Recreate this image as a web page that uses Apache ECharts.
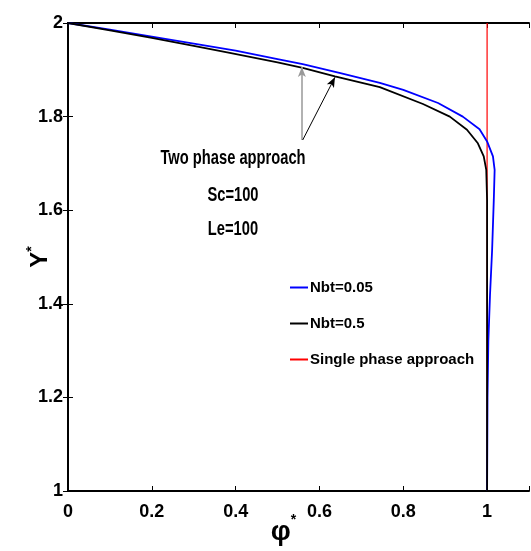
<!DOCTYPE html>
<html><head><meta charset="utf-8">
<script src="https://cdn.jsdelivr.net/npm/echarts@6/dist/echarts.min.js"></script>
<style>html,body{margin:0;padding:0;background:#fff}#c{width:531px;height:551px}</style>
</head><body><div id="c"></div>
<script>
// Nbt = 0.05 (blue): [phi*, Y*]
const blueData = [[0,2.0],[0.1,1.986],[0.2,1.971],[0.3,1.956],[0.4,1.941],[0.5,1.923],[0.56,1.912],[0.65,1.893],[0.744,1.872],[0.8,1.857],[0.883,1.829],[0.942,1.800],[0.982,1.773],[1.0,1.747],[1.014,1.715],[1.018,1.686],[1.016,1.622],[1.012,1.515],[1.007,1.42],[1.003,1.32],[1.001,1.2],[1.0,1.0]];
// Nbt = 0.5 (black)
const blackData = [[0,2.0],[0.1,1.984],[0.2,1.968],[0.3,1.951],[0.386,1.936],[0.5,1.916],[0.56,1.904],[0.637,1.886],[0.744,1.863],[0.847,1.827],[0.911,1.800],[0.952,1.772],[0.978,1.743],[0.992,1.715],[0.998,1.686],[1.0,1.622],[1.0,1.0]];
// Single phase approach (red)
const redData = [[1,1],[1,2]];
const seriesNames = ['Nbt=0.05','Nbt=0.5','Single phase approach'];
const annotationLines = ['Two phase approach','Sc=100','Le=100'];
// annotation arrows (data coords): start -> end
const arrow1 = [[0.558,1.75],[0.558,1.906]];
const arrow2 = [[0.56,1.75],[0.637,1.884]];

const FONT = '"Liberation Sans",Arial,sans-serif';
const chart = echarts.init(document.getElementById('c'), null, {renderer:'canvas'});
const axisCommon = {
  type:'value',
  axisLine:{show:true,lineStyle:{color:'#000',width:2}},
  axisTick:{show:true,inside:true,length:5,lineStyle:{color:'#000',width:1}},
  splitLine:{show:false}
};
function annot(text, y){
  return {type:'text',x:233,y:y,scaleX:0.7,
    style:{text:text,fontFamily:FONT,fontWeight:'bold',fontSize:21,fill:'#000',align:'center',verticalAlign:'middle'}};
}
chart.setOption({
  animation:false,
  grid:{left:68,right:2,top:23,bottom:60,outerBoundsMode:'none',containLabel:false},
  xAxis:[
    Object.assign({}, axisCommon, {min:0,max:1.1,interval:0.2,position:'bottom',
      axisLabel:{color:'#000',fontFamily:FONT,fontWeight:'bold',fontSize:18,margin:12,
        formatter:v=> Math.abs(v-1.1)<1e-6 ? '' : String(+v.toFixed(1))},
      name:'{a|φ}{s|*}', nameLocation:'middle', nameGap:22, nameMoveOverlap:false,
      nameTextStyle:{verticalAlign:'top',padding:[0,30,0,0],rich:{a:{fontFamily:FONT,fontWeight:'bold',fontSize:28,color:'#000'},s:{fontFamily:FONT,fontWeight:'bold',fontSize:14,color:'#000',padding:[0,0,24,0]}}}
    }),
    Object.assign({}, axisCommon, {min:0,max:1.1,interval:0.2,position:'top',axisLabel:{show:false}})
  ],
  yAxis:[
    Object.assign({}, axisCommon, {min:1,max:2,interval:0.2,position:'left',
      axisLabel:{color:'#000',fontFamily:FONT,fontWeight:'bold',fontSize:18,margin:5,
        formatter:v=> String(+v.toFixed(1))},
      name:'{a|Y}{s|*}', nameLocation:'middle', nameGap:13, nameRotate:90, nameMoveOverlap:false,
      nameTextStyle:{rich:{a:{fontFamily:FONT,fontWeight:'bold',fontSize:24,color:'#000'},s:{fontFamily:FONT,fontWeight:'bold',fontSize:14,color:'#000',padding:[0,0,16,0]}}}
    }),
    Object.assign({}, axisCommon, {min:1,max:2,interval:0.2,position:'right',axisLabel:{show:false}})
  ],
  legend:{
    orient:'vertical', left:285, top:275, itemGap:21, itemWidth:18, itemHeight:2,
    icon:'rect',
    textStyle:{fontFamily:FONT,fontWeight:'bold',fontSize:15,color:'#000',padding:[0,0,0,-3]},
    data:seriesNames
  },
  series:[
    {name:seriesNames[0],type:'line',data:blueData,showSymbol:false,color:'#0000ff',lineStyle:{color:'#0000ff',width:1.8},z:3},
    {name:seriesNames[1],type:'line',data:blackData,showSymbol:false,color:'#000',lineStyle:{color:'#000',width:1.8},z:4,
      markLine:{silent:true,symbol:['none','arrow'],symbolSize:[6,10],label:{show:false},
        data:[
          [{coord:arrow1[0],lineStyle:{color:'#999',width:1.5,type:'solid'}},{coord:arrow1[1]}],
          [{coord:arrow2[0],lineStyle:{color:'#000',width:1,type:'solid'}},{coord:arrow2[1]}]
        ]}},
    {name:seriesNames[2],type:'line',data:redData,showSymbol:false,color:'#ff0000',lineStyle:{color:'#ff0000',width:1.2},z:2}
  ],
  graphic:[annot(annotationLines[0],158),annot(annotationLines[1],195),annot(annotationLines[2],229)]
});
</script></body></html>
